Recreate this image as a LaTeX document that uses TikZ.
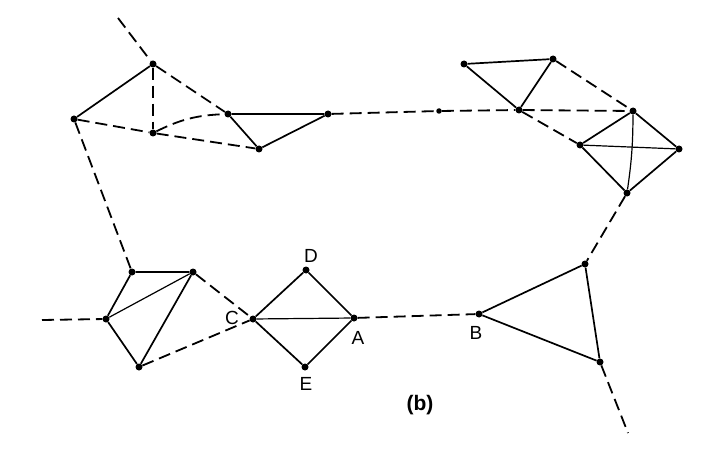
\documentclass[tikz,border=0pt]{standalone}
\usepackage{fontspec}
\setmainfont{Liberation Sans}
\begin{document}
\begin{tikzpicture}[x=1pt,y=-1pt,
  dot/.style={circle,fill=black,inner sep=0pt,minimum size=7pt},
  sol/.style={line width=1.7pt},
  thin/.style={line width=1.2pt},
  dsh/.style={line width=1.8pt,dash pattern=on 12pt off 6pt},
  lbl/.style={font=\fontsize{19}{19}\selectfont,inner sep=0pt}]
\fill[white] (0,0) rectangle (716,460);
\useasboundingbox (0,0) rectangle (716,460);
% top-left group
\node[dot] (p1) at (153,64) {};
\node[dot] (p2) at (74,119) {};
\node[dot] (p3) at (153,133) {};
\node[dot] (p4) at (228,114) {};
\node[dot] (p5) at (259,149) {};
\node[dot] (p6) at (328,114) {};
\node[dot,minimum size=5.5pt] (m) at (439,111) {};
% top-right group
\node[dot] (q1) at (464,64) {};
\node[dot] (q2) at (553,59) {};
\node[dot] (q3) at (519,110) {};
\node[dot] (q4) at (633,111) {};
\node[dot] (q5) at (580,145) {};
\node[dot] (q6) at (679,149) {};
\node[dot] (q7) at (627,193) {};
% right triangle
\node[dot] (b) at (479,314) {};
\node[dot] (r1) at (585,264) {};
\node[dot] (r2) at (600,362) {};
% lower-left group
\node[dot] (l1) at (132,272) {};
\node[dot] (l2) at (193,272) {};
\node[dot] (l3) at (106,319) {};
\node[dot] (l4) at (139,367) {};
% diamond
\node[dot] (c) at (253,319) {};
\node[dot] (d) at (306,270) {};
\node[dot] (a) at (354,318) {};
\node[dot] (e) at (305,367) {};
% free ends
\coordinate (t0) at (118,18);
\coordinate (l0) at (42,320);
\coordinate (r0) at (628,433);
% labels
\node[lbl] (ld) at (311,256) {D};
\node[lbl] (lc) at (232,318) {C};
\node[lbl] (la) at (358,338) {A};
\node[lbl] (le) at (306,384) {E};
\node[lbl] (lb) at (476,333) {B};
\node[font=\bfseries\fontsize{21}{21}\selectfont,inner sep=0pt] (lbb) at (420,405) {(b)};
% solid edges
\draw[sol] (p1) -- (p2);
\draw[sol] (p4) -- (p5) -- (p6) -- (p4);
\draw[sol] (q1) -- (q2) -- (q3) -- (q1);
\draw[sol] (q4) -- (q5) -- (q7) -- (q6) -- (q4);
\draw[thin] (q5) -- (q6);
\draw[thin] (q4) to[bend left=4] (q7);
\draw[sol] (b) -- (r1) -- (r2) -- (b);
\draw[sol] (l1) -- (l2) -- (l4) -- (l3) -- (l1);
\draw[thin] (l3) -- (l2);
\draw[sol] (c) -- (d) -- (a) -- (e) -- (c);
\draw[thin] (c) -- (a);
% dashed edges
\draw[dsh] (t0) -- (p1);
\draw[dsh] (p1) -- (p3);
\draw[dsh] (p2) -- (p3);
\draw[dsh] (p1) -- (p4);
\draw[dsh] (p3) to[bend left=12] (p4);
\draw[dsh] (p3) -- (p5);
\draw[dsh] (p2) -- (l1);
\draw[dsh] (p6) -- (m);
\draw[dsh] (m) -- (q3);
\draw[dsh] (q2) -- (q4);
\draw[dsh] (q3) -- (q4);
\draw[dsh] (q3) -- (q5);
\draw[dsh] (q7) -- (r1);
\draw[dsh] (r2) -- (r0);
\draw[dsh] (l0) -- (l3);
\draw[dsh] (l2) -- (c);
\draw[dsh] (l4) -- (c);
\draw[dsh] (a) -- (b);
\end{tikzpicture}
\end{document}
